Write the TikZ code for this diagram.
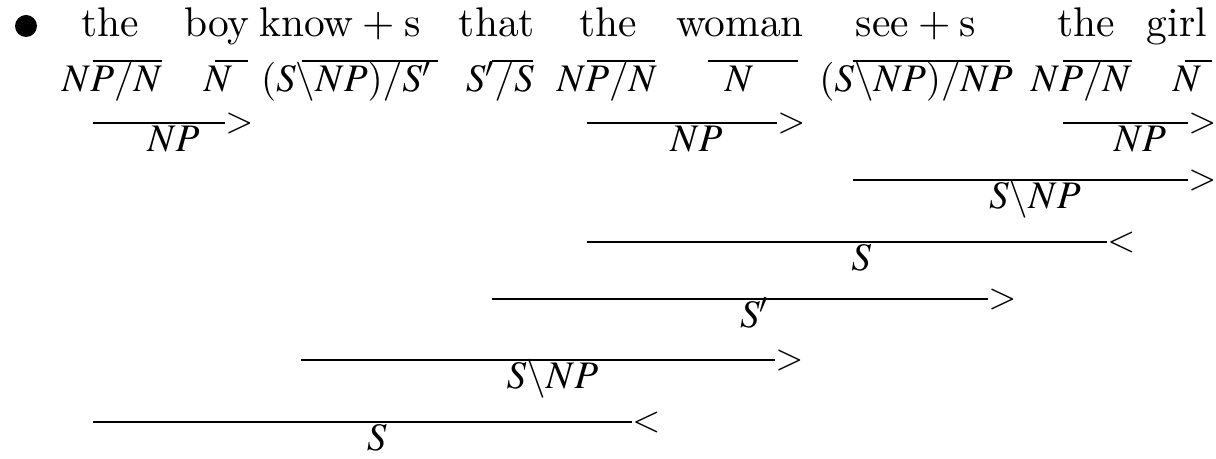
\documentclass[tikz,border=0pt]{standalone}
\usepackage{mathptmx}
\usepackage{fontspec}
\setmainfont{lmroman10-regular.otf}
\usetikzlibrary{positioning,calc}
\begin{document}
\begin{tikzpicture}[x=.5pt, y=-.5pt, font=\fontsize{19.5}{22}\selectfont, line cap=butt]
	\tikzset{word/.style={anchor=base, inner sep=0pt, font=\fontsize{20.74}{24}\selectfont},
		cat/.style={anchor=base, inner sep=0pt},
		opsym/.style={anchor=west, inner sep=0pt, font=\fontsize{18}{20}\selectfont},
		rule/.style={line width=.6pt}}
	\def\yword{37} \def\ycat{92} \def\ylex{61}
	\useasboundingbox (0,0) rectangle (1216,459);
	%\draw[color=gray!50,dashed] (0,0) grid[step=50] (1216,459);
	\node[circle, fill=black, inner sep=0pt, minimum size=11pt] (bul) at (26,26) {};
	% the words
	\foreach \x/\w [count=\i] in {110/the, 217/boy, 340/know\hspace{.22em}+\hspace{.22em}s, 497/that, 608/the, 740/woman, 916/see\hspace{.22em}+\hspace{.22em}s, 1086/the, 1177/girl}
		\node[word] (w\i) at (\x,\yword) {\w};
	% lexical categories
	\foreach \x/\c [count=\i] in {112/{NP/N}, 218/N, 346/{(S\backslash NP)/S'}, 500/{S'/S}, 607/{NP/N}, 739/N, 916/{(S\backslash NP)/NP}, 1081/{NP/N}, 1187/N}
		\node[cat] (c\i) at (\x,\ycat) {$\c$};
	\foreach \xa/\xb [count=\i] in {93/162, 215/248, 302/438, 492/533, 587/655, 708/798, 853/1010, 1063/1132, 1185/1212}
		\draw[rule] (\xa,\ylex) coordinate (la\i) -- (\xb,\ylex) coordinate (lb\i);
	% combination steps
	\foreach \xa/\xb/\yy/\op/\lab [count=\i] in {93/225/123/>/NP, 587/777/123/>/NP, 1063/1188/123/>/NP, 853/1188/180/>/S\backslash NP, 587/1107/242/</S, 492/988/299/>/S', 301/775/360/>/S\backslash NP, 93/632/422/</S}{
		\coordinate (ra\i) at (\xa,\yy);
		\coordinate (rb\i) at (\xb,\yy);
		\draw[rule] (ra\i) -- (rb\i);
		\node[opsym] (op\i) at (rb\i) {$\op$};
		\node[cat] (r\i) at ($(ra\i)!.5!(op\i.east)+(0,29)$) {$\lab$};
	}
\end{tikzpicture}
\end{document}
